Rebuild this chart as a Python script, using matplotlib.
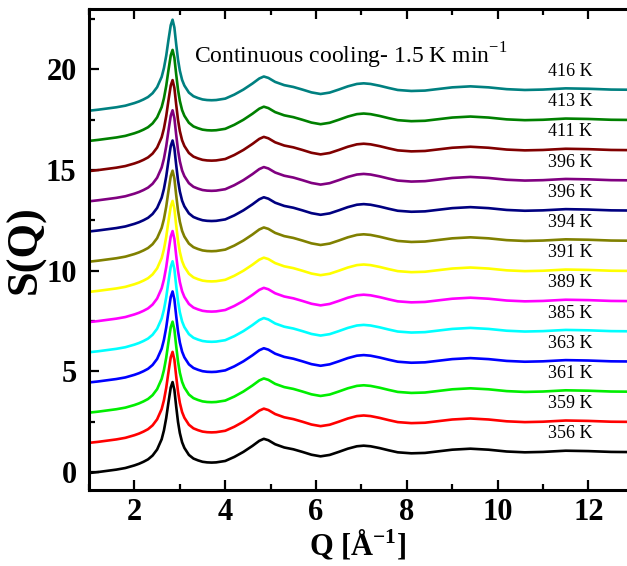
import matplotlib
matplotlib.use("Agg")
import matplotlib.pyplot as plt
from matplotlib.ticker import MultipleLocator

plt.rcParams['font.family'] = ['Liberation Serif', 'DejaVu Serif']
plt.rcParams['mathtext.fontset'] = 'custom'
plt.rcParams['mathtext.rm'] = 'Liberation Serif'
plt.rcParams['mathtext.bf'] = 'Liberation Serif:bold'

# Shared S(Q) profile (read from the lowest, 356 K curve)
q = [1.0, 1.2, 1.4, 1.6, 1.8, 2.0, 2.1, 2.2, 2.3, 2.4, 2.5, 2.6, 2.65, 2.7,
     2.75, 2.8, 2.84, 2.88, 2.92, 2.96, 3.0, 3.05, 3.1, 3.2, 3.3, 3.4, 3.5,
     3.6, 3.7, 3.8, 4.0, 4.2, 4.4, 4.6, 4.75, 4.85, 4.95, 5.1, 5.3, 5.5, 5.7,
     5.9, 6.1, 6.3, 6.5, 6.7, 6.9, 7.05, 7.2, 7.4, 7.6, 7.8, 8.1, 8.4, 8.7,
     9.0, 9.4, 9.8, 10.2, 10.6, 11.0, 11.5, 12.0, 12.5, 13.0]
s_profile = [-0.05, 0.0, 0.06, 0.12, 0.2, 0.33, 0.41, 0.51, 0.63, 0.82, 1.12,
             1.63, 2.07, 2.68, 3.47, 4.2, 4.47, 4.08, 3.25, 2.49, 1.94, 1.48,
             1.2, 0.85, 0.67, 0.58, 0.51, 0.48, 0.47, 0.48, 0.55, 0.75, 1.0,
             1.3, 1.55, 1.65, 1.58, 1.38, 1.22, 1.13, 1.0, 0.86, 0.78, 0.85,
             1.0, 1.16, 1.28, 1.31, 1.28, 1.19, 1.08, 0.98, 0.93, 0.95, 1.03,
             1.11, 1.16, 1.11, 1.02, 0.98, 1.0, 1.06, 1.04, 1.0, 0.99]

temps = ['356 K', '359 K', '361 K', '363 K', '385 K', '389 K', '391 K',
         '394 K', '396 K', '396 K', '411 K', '413 K', '416 K']
offsets = [0.0, 1.5, 3.0, 4.5, 6.0, 7.5, 9.0, 10.5, 12.0, 13.5, 15.0, 16.5, 18.0]
colors = ['#000000', '#ff0000', '#00ee00', '#0000ff', '#00ffff', '#ff00ff',
          '#ffff00', '#808000', '#000080', '#800080', '#800000', '#008000',
          '#008080']

fig = plt.figure(figsize=(6.27, 5.66), dpi=100)
ax = fig.add_axes([0.142, 0.134, 0.858, 0.850])

for lab, off, c in zip(temps, offsets, colors):
    ax.plot(q, [v + off for v in s_profile], color=c, lw=1.9,
            solid_joinstyle='round')
    ax.text(11.6, off + 1.9, lab, ha='center', va='center', fontsize=13)

ax.text(3.32, 20.3, r'Continuous cooling- 1.5 K min$^{\mathregular{-1}}$',
        fontsize=17, va='baseline', ha='left')

ax.set_xlim(1.0, 12.85)
ax.set_ylim(-0.9, 23.0)
ax.xaxis.set_major_locator(MultipleLocator(2))
ax.xaxis.set_minor_locator(MultipleLocator(1))
ax.yaxis.set_major_locator(MultipleLocator(5))
ax.yaxis.set_minor_locator(MultipleLocator(2.5))
ax.tick_params(which='both', direction='in', top=True, right=False,
               width=1.6, labelsize=22)
ax.tick_params(which='major', length=7, pad=9)
ax.tick_params(axis='x', which='major', pad=6)
ax.tick_params(which='minor', length=4)
for lbl in ax.get_xticklabels() + ax.get_yticklabels():
    lbl.set_fontweight('bold')
for side in ['left', 'bottom', 'top']:
    ax.spines[side].set_linewidth(2.2)
ax.spines['right'].set_visible(False)

ax.set_xlabel(r'Q [Å$^{\mathbf{-1}}$]', fontsize=22, fontweight='bold',
              labelpad=0)
ax.set_ylabel('S(Q)', fontsize=32, fontweight='bold', labelpad=0)

fig.savefig('out.png', dpi=100)
